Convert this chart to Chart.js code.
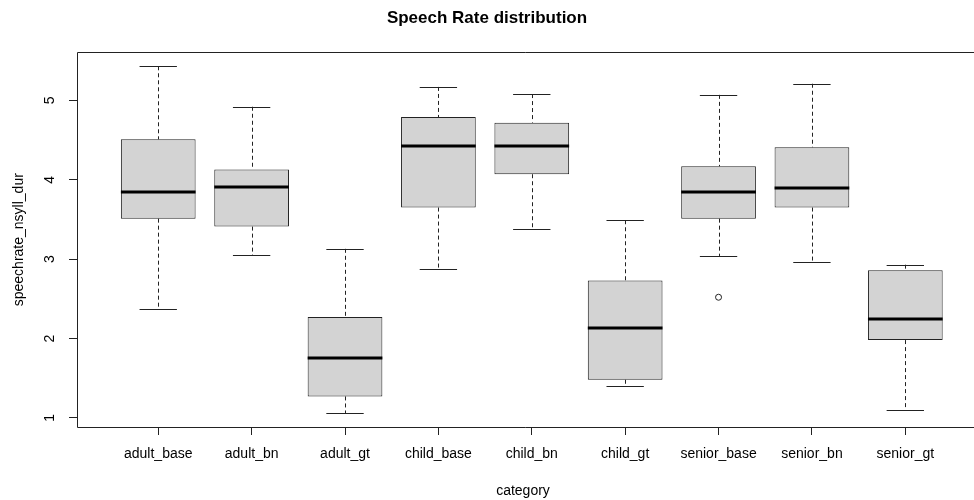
<!DOCTYPE html>
<html>
<head>
<meta charset="utf-8">
<script src="https://cdn.jsdelivr.net/npm/chart.js@4"></script>
<style>
  body { margin: 0; background: #fff; }
  #wrap { width: 974px; height: 500px; }
</style>
</head>
<body>
<div id="wrap"><canvas id="myChart"></canvas></div>
<script>
// five-number summaries, one entry per category
const categories = ['adult_base', 'adult_bn', 'adult_gt', 'child_base', 'child_bn', 'child_gt', 'senior_base', 'senior_bn', 'senior_gt'];
const whiskerLow = [2.37, 3.05, 1.06, 2.87, 3.38, 1.40, 3.04, 2.97, 1.10];
const q1 = [3.51, 3.41, 1.27, 3.65, 4.07, 1.48, 3.51, 3.65, 1.98];
const median = [3.84, 3.91, 1.76, 4.42, 4.42, 2.13, 3.84, 3.90, 2.25];
const q3 = [4.51, 4.13, 2.27, 4.79, 4.72, 2.73, 4.17, 4.41, 2.86];
const whiskerHigh = [5.43, 4.92, 3.13, 5.17, 5.08, 3.49, 5.07, 5.21, 2.93];
const outlierCategory = [7];
const outlierValue = [2.52];
const yTicks = [1, 2, 3, 4, 5];

const FONT = "'Liberation Sans', Arial, sans-serif";
const INK = '#222';

Chart.defaults.font.family = FONT;
Chart.defaults.color = '#000';

function line(ctx, x1, y1, x2, y2)
{
    ctx.beginPath();
    ctx.moveTo(x1, y1);
    ctx.lineTo(x2, y2);
    ctx.stroke();
}

const boxplotParts = {
    id: 'boxplotParts',
    beforeDatasetsDraw(chart)
    {
        // dashed whiskers and their caps, under the boxes
        const { ctx, scales: { x, y } } = chart;
        ctx.save();
        ctx.strokeStyle = INK;
        ctx.lineWidth = 1;
        categories.forEach((c, i) =>
        {
            const px = Math.round(x.getPixelForValue(i + 1)) + 0.5;
            ctx.setLineDash([4, 3]);
            line(ctx, px, y.getPixelForValue(whiskerHigh[i]), px, y.getPixelForValue(q3[i]));
            line(ctx, px, y.getPixelForValue(q1[i]), px, y.getPixelForValue(whiskerLow[i]));
            ctx.setLineDash([]);
            const l = x.getPixelForValue(i + 1 - 0.2);
            const r = x.getPixelForValue(i + 1 + 0.2);
            const hi = Math.round(y.getPixelForValue(whiskerHigh[i])) + 0.5;
            const lo = Math.round(y.getPixelForValue(whiskerLow[i])) + 0.5;
            line(ctx, l, hi, r, hi);
            line(ctx, l, lo, r, lo);
        });
        ctx.restore();
    },
    afterDatasetsDraw(chart)
    {
        const { ctx, scales: { x, y } } = chart;
        ctx.save();
        ctx.strokeStyle = '#000';
        ctx.lineWidth = 3;
        categories.forEach((c, i) =>
        {
            const py = Math.round(y.getPixelForValue(median[i]));
            line(ctx, x.getPixelForValue(i + 1 - 0.4), py, x.getPixelForValue(i + 1 + 0.4), py);
        });
        ctx.restore();
    },
    afterDraw(chart)
    {
        const { ctx, chartArea, scales: { y } } = chart;
        ctx.save();
        // frame: left, top, bottom (right edge falls outside the picture)
        ctx.strokeStyle = INK;
        ctx.lineWidth = 1;
        const l = Math.round(chartArea.left) + 0.5;
        const t = Math.round(chartArea.top) + 0.5;
        const b = Math.round(chartArea.bottom) + 0.5;
        line(ctx, l, t, chart.width, t);
        line(ctx, l, t, l, b);
        line(ctx, l, b, chart.width, b);
        // y tick labels run along the axis, as in base R
        ctx.fillStyle = '#000';
        ctx.font = '14px ' + FONT;
        ctx.textAlign = 'center';
        ctx.textBaseline = 'middle';
        yTicks.forEach(v =>
        {
            ctx.save();
            ctx.translate(chartArea.left - 27, y.getPixelForValue(v));
            ctx.rotate(-Math.PI / 2);
            ctx.fillText(String(v), 0, 0);
            ctx.restore();
        });
        ctx.restore();
    }
};

const chartContext = document.getElementById('myChart').getContext('2d');
new Chart(chartContext, {
    type: 'bar',
    data: {
        datasets: [
            {
                data: categories.map((c, i) => ({ x: i + 1, y: [q1[i], q3[i]] })),
                backgroundColor: '#d3d3d3',
                borderColor: INK,
                borderWidth: 1,
                borderSkipped: false,
                categoryPercentage: 1,
                barPercentage: 0.8,
            },
            {
                type: 'scatter',
                data: outlierCategory.map((c, i) => ({ x: c, y: outlierValue[i] })),
                pointRadius: 3,
                pointBorderWidth: 1,
                pointBorderColor: INK,
                pointBackgroundColor: 'rgba(0,0,0,0)',
            }
        ]
    },
    options: {
        animation: false,
        responsive: true,
        maintainAspectRatio: false,
        layout: { padding: 0 },
        plugins: {
            legend: { display: false },
            tooltip: { enabled: false },
            title: {
                display: true,
                text: 'Speech Rate distribution',
                color: '#000',
                font: { size: 17, weight: 'bold' },
                padding: { top: 8, bottom: 24 },
            },
        },
        scales: {
            x: {
                type: 'linear',
                offset: false,
                min: 0.13,
                max: 9.682,
                afterBuildTicks: scale =>
                {
                    scale.ticks = categories.map((c, i) => ({ value: i + 1 }));
                },
                afterFit: scale =>
                {
                    scale.height = 73;
                    scale.paddingLeft = 0;
                    scale.paddingRight = 0;
                },
                grid: {
                    display: true,
                    offset: false,
                    drawOnChartArea: false,
                    drawTicks: true,
                    tickLength: 8,
                    color: INK,
                },
                border: { display: false },
                ticks: {
                    autoSkip: false,
                    maxRotation: 0,
                    padding: 11,
                    color: '#000',
                    font: { size: 14 },
                    callback: (value, index) => categories[index],
                },
                title: {
                    display: true,
                    text: 'category',
                    color: '#000',
                    font: { size: 14 },
                    padding: { top: 0, bottom: 0 },
                },
            },
            y: {
                type: 'linear',
                min: 0.885,
                max: 5.605,
                afterBuildTicks: scale =>
                {
                    scale.ticks = yTicks.map(v => ({ value: v }));
                },
                afterFit: scale =>
                {
                    scale.width = 77;
                },
                grid: {
                    display: true,
                    drawOnChartArea: false,
                    drawTicks: true,
                    tickLength: 8,
                    color: INK,
                },
                border: { display: false },
                ticks: { display: false },
                title: {
                    display: true,
                    text: 'speechrate_nsyll_dur',
                    color: '#000',
                    font: { size: 14 },
                    padding: { top: 11, bottom: 0 },
                },
            }
        }
    },
    plugins: [boxplotParts]
});
</script>
</body>
</html>
